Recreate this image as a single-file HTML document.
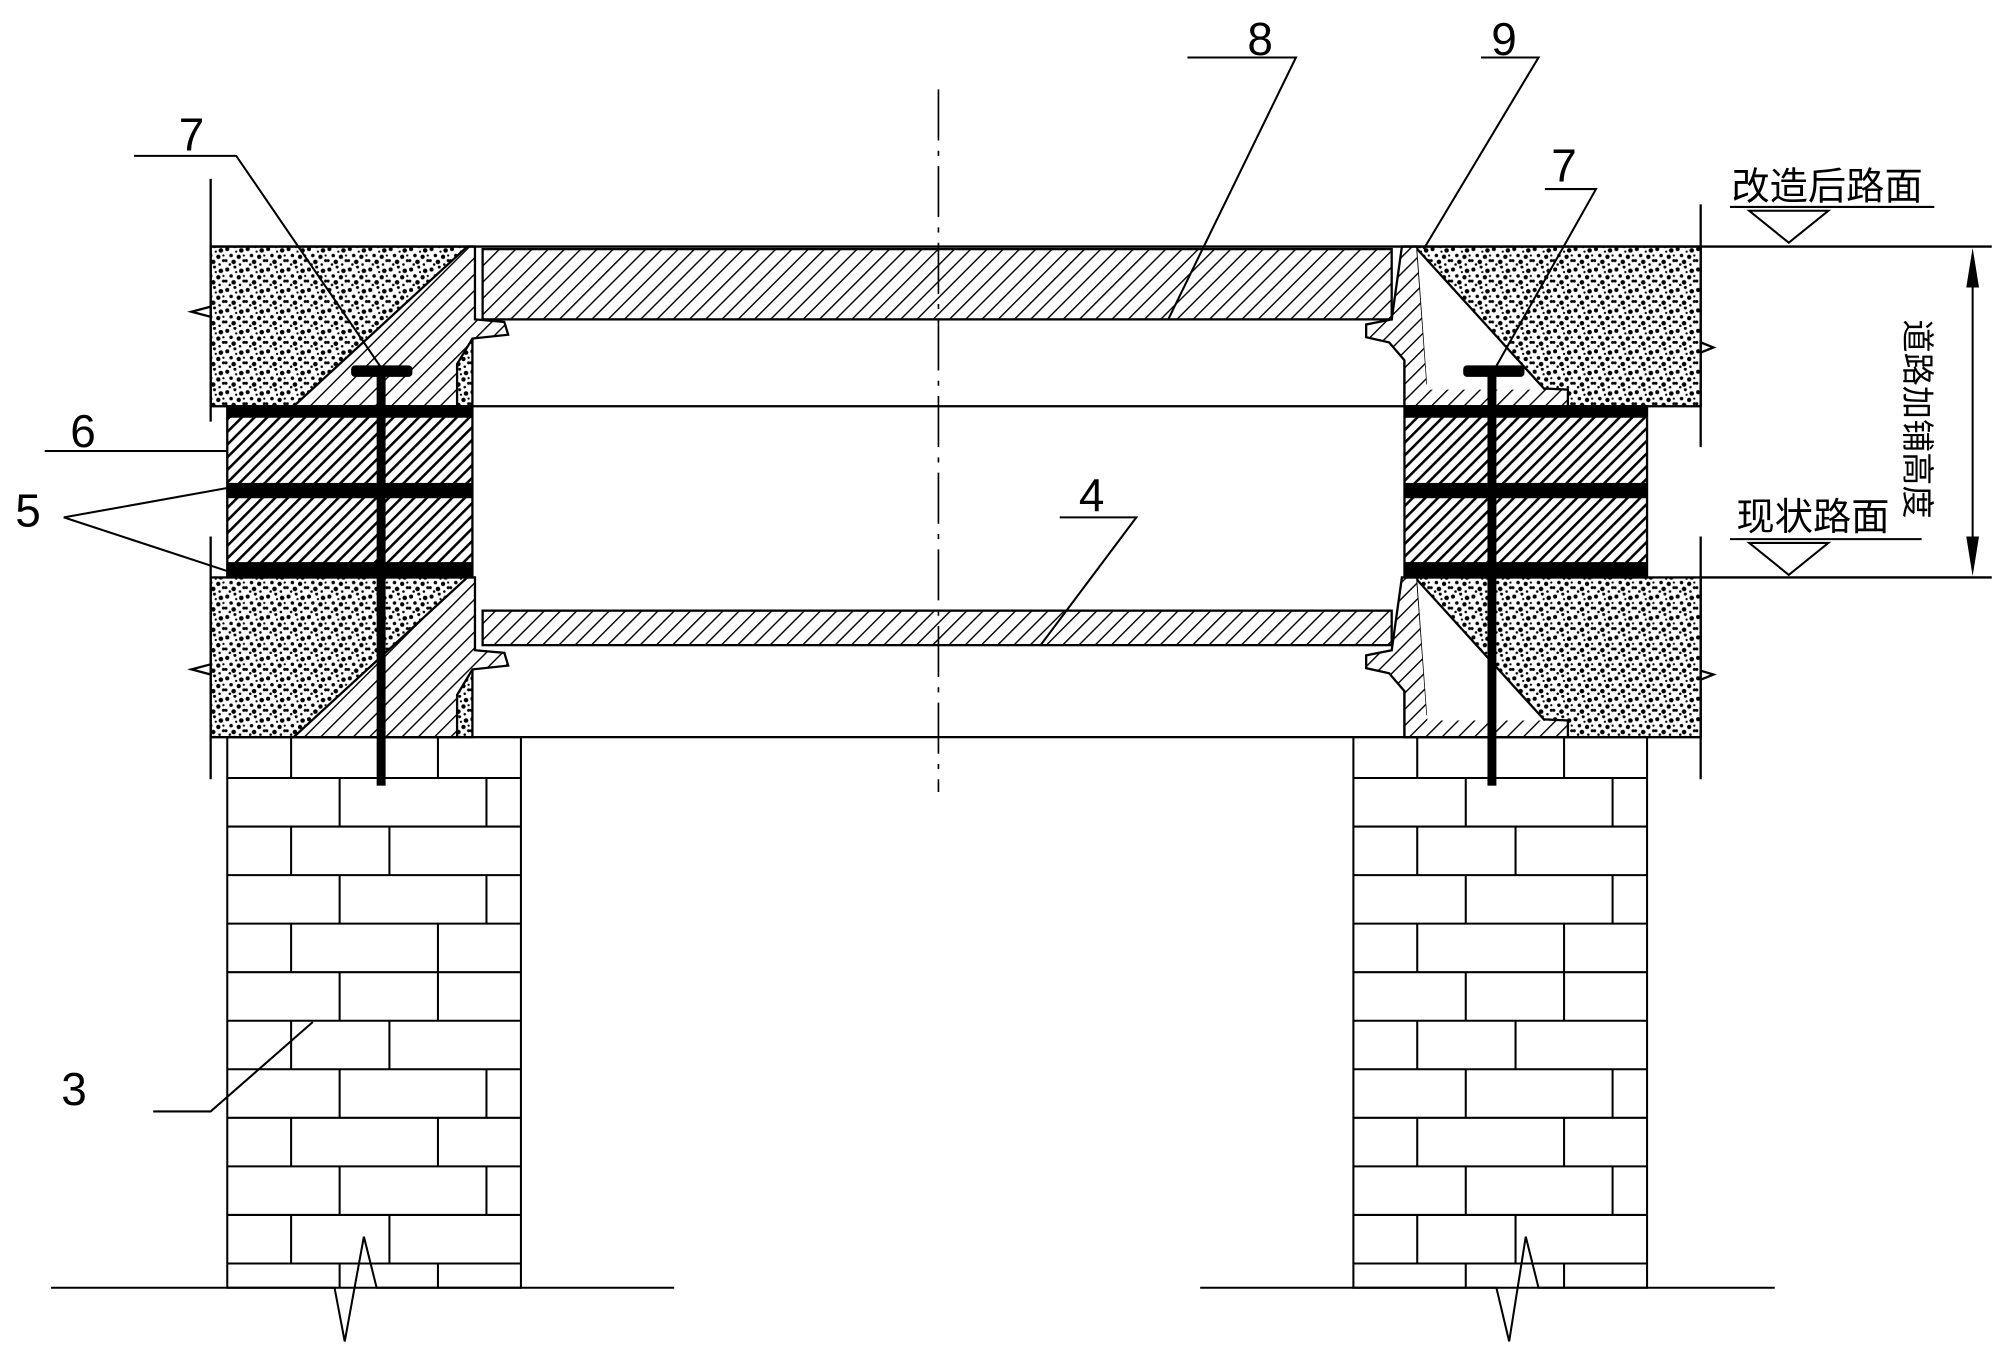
<!DOCTYPE html>
<html><head><meta charset="utf-8"><style>
html,body{margin:0;padding:0;background:#fff;}
svg{display:block;}
text{font-family:"Liberation Sans","Noto Sans CJK SC",sans-serif;fill:#000;}
</style></head><body>
<svg width="2002" height="1358" viewBox="0 0 1568 1063" preserveAspectRatio="none" xmlns="http://www.w3.org/2000/svg">
<defs>
<pattern id="h" width="9" height="9" patternUnits="userSpaceOnUse" patternTransform="rotate(45)">
<rect width="9" height="9" fill="#fff"/><line x1="0" y1="0" x2="0" y2="9" stroke="#000" stroke-width="2.2"/></pattern>
<pattern id="hd" width="7" height="7" patternUnits="userSpaceOnUse" patternTransform="rotate(45)">
<rect width="7" height="7" fill="#fff"/><line x1="0" y1="0" x2="0" y2="7" stroke="#000" stroke-width="4"/></pattern>
<pattern id="d" width="16" height="16" patternUnits="userSpaceOnUse">
<rect width="16" height="16" fill="#fff"/>
<g fill="#000">
<circle cx="2" cy="3" r="1.6"/><circle cx="8" cy="1" r="1.2"/><circle cx="13" cy="4" r="1.8"/>
<circle cx="5" cy="8" r="1.4"/><circle cx="11" cy="9" r="1.7"/><circle cx="15" cy="12" r="1.2"/>
<circle cx="1" cy="12" r="1.2"/><circle cx="7" cy="13" r="1.8"/><circle cx="12" cy="15" r="1"/>
<circle cx="4" cy="15" r="1"/><circle cx="9" cy="5" r="0.9"/><circle cx="15" cy="8" r="0.9"/>
</g></pattern>
</defs>
<g stroke="#000" stroke-width="1.8" fill="none">
<rect x="165" y="193" width="205" height="125" fill="url(#d)"/>
<rect x="165" y="452" width="205" height="125" fill="url(#d)"/>
<rect x="1100" y="193" width="232" height="125" fill="url(#d)"/>
<rect x="1100" y="452" width="232" height="125" fill="url(#d)"/>
<polygon points="366,193 372,193 372,250 395,252 398,262 370,265 358,285 358,318 230,318" fill="url(#h)"/>
<polygon points="366,452 372,452 372,509 395,511 398,521 370,524 358,544 358,577 230,577" fill="url(#h)"/>
<polygon points="1098,193 1110,193 1118,300 1228,305 1228,318 1100,318 1100,282 1088,268 1070,264 1070,254 1090,250" fill="url(#h)"/>
<polygon points="1110,195 1210,305 1118,305" fill="#fff" stroke="none"/>
<line x1="1110" y1="195" x2="1210" y2="305"/>
<polygon points="1098,452 1110,452 1118,559 1228,564 1228,577 1100,577 1100,541 1088,527 1070,523 1070,513 1090,509" fill="url(#h)"/>
<polygon points="1110,454 1210,564 1118,564" fill="#fff" stroke="none"/>
<line x1="1110" y1="454" x2="1210" y2="564"/>
<rect x="378" y="195" width="712" height="55" fill="url(#h)"/>
<rect x="378" y="478" width="712" height="27" fill="url(#h)"/>
<rect x="178" y="318" width="192" height="134" fill="url(#hd)"/>
<rect x="1100" y="318" width="190" height="134" fill="url(#hd)"/>
<line x1="165" y1="193" x2="1560" y2="193"/>
<line x1="370" y1="318" x2="1100" y2="318"/>
<line x1="165" y1="577" x2="1332" y2="577"/>
<line x1="1332" y1="452" x2="1560" y2="452"/>
<line x1="165" y1="140" x2="165" y2="330"/><line x1="165" y1="420" x2="165" y2="610"/>
<line x1="1332" y1="160" x2="1332" y2="350"/><line x1="1332" y1="420" x2="1332" y2="610"/>
<polyline points="165,240 150,244 165,248"/><polyline points="165,520 150,524 165,528"/>
<polyline points="1332,268 1342,272 1332,276"/><polyline points="1332,525 1342,528 1332,532"/>
</g>
<g fill="#000">
<rect x="178" y="318" width="192" height="9"/><rect x="178" y="378" width="192" height="12"/><rect x="178" y="440" width="192" height="12"/>
<rect x="1100" y="318" width="190" height="9"/><rect x="1100" y="378" width="190" height="12"/><rect x="1100" y="440" width="190" height="12"/>
<rect x="295" y="290" width="7" height="325"/><rect x="275" y="286" width="48" height="9" rx="3"/>
<rect x="1165" y="290" width="7" height="325"/><rect x="1146" y="286" width="48" height="9" rx="3"/>
</g>
<g stroke="#000" stroke-width="1.6" fill="none">
<rect x="178" y="577" width="230" height="431"/>
<rect x="1060" y="577" width="230" height="431"/>
<g id="br">
<line x1="178" y1="609" x2="408" y2="609"/><line x1="178" y1="647" x2="408" y2="647"/><line x1="178" y1="685" x2="408" y2="685"/>
<line x1="178" y1="723" x2="408" y2="723"/><line x1="178" y1="761" x2="408" y2="761"/><line x1="178" y1="799" x2="408" y2="799"/>
<line x1="178" y1="837" x2="408" y2="837"/><line x1="178" y1="875" x2="408" y2="875"/><line x1="178" y1="913" x2="408" y2="913"/>
<line x1="178" y1="951" x2="408" y2="951"/><line x1="178" y1="989" x2="408" y2="989"/>
<path d="M228 577V609M343 577V609M266 609V647M381 609V647M228 647V685M305 647V685M266 685V723M381 685V723M228 723V761M343 723V761M266 761V799M343 761V799M228 799V837M305 799V837M266 837V875M381 837V875M228 875V913M343 875V913M266 913V951M381 913V951M228 951V989M305 951V989M266 989V1008M343 989V1008"/>
</g>
<use href="#br" x="882" y="0"/>
<polyline points="40,1008 262,1008 270,1050 285,968 295,1008 528,1008"/>
<polyline points="940,1008 1172,1008 1182,1050 1195,968 1205,1008 1390,1008"/>
<line x1="735" y1="70" x2="735" y2="620" stroke-dasharray="40,8,4,8" stroke-width="1.3"/>
<polyline points="105,122 185,122 300,290"/>
<polyline points="930,45 1015,45 915,250"/>
<polyline points="1160,45 1205,45 1115,195"/>
<polyline points="1210,148 1250,148 1170,290"/>
<line x1="35" y1="353" x2="178" y2="353"/>
<polyline points="178,382 50,405 178,447"/>
<polyline points="830,405 890,405 815,505"/>
<polyline points="120,870 165,870 245,800"/>
<line x1="1355" y1="162" x2="1515" y2="162"/>
<polygon points="1370,165 1432,165 1401,190"/>
<line x1="1355" y1="422" x2="1505" y2="422"/>
<polygon points="1370,425 1432,425 1401,450"/>
<line x1="1545" y1="200" x2="1545" y2="446"/>
</g>
<polygon points="1545,194 1540,225 1550,225" fill="#000"/>
<polygon points="1545,451 1540,420 1550,420" fill="#000"/>
<g font-size="36">
<text x="140" y="118">7</text>
<text x="977" y="43">8</text>
<text x="1168" y="43">9</text>
<text x="1215" y="142">7</text>
<text x="55" y="350">6</text>
<text x="12" y="412">5</text>
<text x="845" y="400">4</text>
<text x="48" y="865">3</text>
</g>
<g font-size="30">
<text x="1356" y="156">改造后路面</text>
<text x="1360" y="415">现状路面</text>
</g>
<text font-size="26" transform="translate(1493,250) rotate(90)">道路加铺高度</text>
</svg>
</body></html>
